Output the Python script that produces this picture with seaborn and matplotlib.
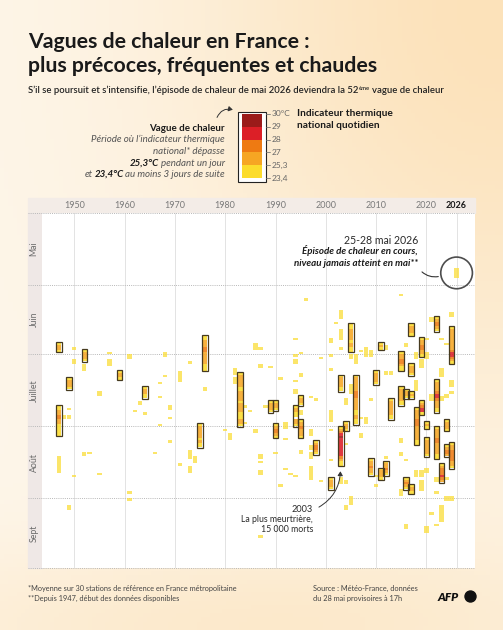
import matplotlib.pyplot as plt
import matplotlib.patches as mpatches
import numpy as np
import pandas as pd
import seaborn as sns

sns.set_theme(style="white")
plt.rcParams['font.family'] = ['Lato', 'DejaVu Sans']

W, H = 503, 630

# classes of the daily national thermal indicator (23,4 -> 30 °C)
LEVEL_COLORS = ["#fcdc2c", "#f6a623", "#ee7a12", "#dc1f27", "#9b1b1a"]
LEVEL_TICKS = ["23,4", "25,3", "27", "28", "29", "30°C"]
MONTHS = ["Mai", "Juin", "Juillet", "Août", "Sept"]
MONTH_STARTS = [0, 31, 61, 92, 123, 153]
DECADES = [1950, 1960, 1970, 1980, 1990, 2000, 2010, 2020, 2026]

# official heat waves: first day, last day, class of each day ('-' = below 23,4)
HEATWAVES = [
    ("1947-06-26", "1947-06-29", "0110"),
    ("1947-07-23", "1947-08-04", "0011221100000"),
    ("1949-07-11", "1949-07-15", "01110"),
    ("1952-06-29", "1952-07-03", "01110"),
    ("1959-07-08", "1959-07-11", "0110"),
    ("1964-07-15", "1964-07-19", "01100"),
    ("1975-07-31", "1975-08-09", "0111110100"),
    ("1976-06-23", "1976-07-07", "001112211111000"),
    ("1983-07-09", "1983-07-31", "01111100111101111000110"),
    ("1989-07-21", "1989-07-25", "01110"),
    ("1990-07-21", "1990-07-24", "0110"),
    ("1990-07-31", "1990-08-05", "012210"),
    ("1994-07-23", "1994-07-31", "01100-110"),
    ("1995-07-19", "1995-07-22", "0110"),
    ("1995-07-29", "1995-08-05", "01121110"),
    ("1998-08-07", "1998-08-12", "012210"),
    ("2001-08-23", "2001-08-27", "01110"),
    ("2003-07-10", "2003-07-16", "0111100"),
    ("2003-08-01", "2003-08-17", "01234333333332100"),
    ("2004-07-30", "2004-08-02", "0110"),
    ("2005-06-18", "2005-06-29", "001111101100"),
    ("2006-07-10", "2006-07-30", "011111122211111001100"),
    ("2009-08-15", "2009-08-21", "0112110"),
    ("2010-07-08", "2010-07-13", "011110"),
    ("2011-06-26", "2011-06-28", "010"),
    ("2011-08-19", "2011-08-23", "01110"),
    ("2012-08-16", "2012-08-21", "011210"),
    ("2013-07-20", "2013-07-28", "011111100"),
    ("2015-06-30", "2015-07-07", "01122100"),
    ("2015-07-15", "2015-07-22", "01111100"),
    ("2016-07-16", "2016-07-19", "0110"),
    ("2016-08-23", "2016-08-27", "01210"),
    ("2017-06-18", "2017-06-22", "01110"),
    ("2017-07-05", "2017-07-09", "01110"),
    ("2017-07-17", "2017-07-19", "010"),
    ("2017-08-26", "2017-08-29", "0110"),
    ("2018-07-24", "2018-08-08", "0111122211111100"),
    ("2019-06-24", "2019-07-01", "01122110"),
    ("2019-07-21", "2019-07-26", "012330"),
    ("2020-07-30", "2020-08-01", "010"),
    ("2020-08-06", "2020-08-13", "01111110"),
    ("2022-06-15", "2022-06-20", "012210"),
    ("2022-07-12", "2022-07-25", "01111233211100"),
    ("2022-08-01", "2022-08-14", "01111221111100"),
    ("2023-08-17", "2023-08-24", "01222321"),
    ("2024-07-29", "2024-08-02", "01110"),
    ("2024-08-09", "2024-08-13", "01221"),
    ("2025-06-19", "2025-07-04", "0111111111233210"),
    ("2025-08-08", "2025-08-18", "01122222110"),
]

# hot days (indicator above 23,4) outside official heat waves
HOT_DAYS = [
    ("1947-08-14", "1947-08-20"), ("1948-07-27", "1948-07-28"),
    ("1949-07-24", "1949-07-24"), ("1949-07-27", "1949-07-28"), ("1949-09-04", "1949-09-05"),
    ("1950-06-28", "1950-06-28"), ("1950-07-03", "1950-07-04"), ("1950-08-22", "1950-08-22"),
    ("1952-07-05", "1952-07-07"), ("1952-08-12", "1952-08-13"), ("1953-08-12", "1953-08-12"),
    ("1955-07-17", "1955-07-18"), ("1955-08-21", "1955-08-21"),
    ("1957-06-30", "1957-06-30"), ("1957-07-03", "1957-07-05"),
    ("1961-07-01", "1961-07-02"), ("1961-08-29", "1961-08-29"), ("1961-09-01", "1961-09-01"),
    ("1962-07-25", "1962-07-25"), ("1963-07-21", "1963-07-22"), ("1964-07-26", "1964-07-26"),
    ("1966-08-12", "1966-08-12"),
    ("1967-07-13", "1967-07-13"), ("1967-07-19", "1967-07-19"), ("1967-07-31", "1967-07-31"),
    ("1968-06-30", "1968-07-01"), ("1968-07-10", "1968-07-10"),
    ("1969-07-23", "1969-07-24"), ("1969-07-28", "1969-07-28"), ("1969-08-07", "1969-08-07"),
    ("1971-07-08", "1971-07-12"), ("1971-08-17", "1971-08-17"),
    ("1973-07-04", "1973-07-04"), ("1973-08-11", "1973-08-14"), ("1973-08-18", "1973-08-20"),
    ("1974-08-14", "1974-08-16"), ("1976-07-15", "1976-07-16"),
    ("1980-08-02", "1980-08-02"), ("1981-08-04", "1981-08-06"),
    ("1982-07-07", "1982-07-09"), ("1982-07-11", "1982-07-13"),
    ("1984-07-23", "1984-07-23"), ("1984-07-30", "1984-07-30"), ("1985-07-25", "1985-07-25"),
    ("1986-06-26", "1986-06-28"), ("1986-08-02", "1986-08-03"),
    ("1987-06-28", "1987-06-28"), ("1987-07-05", "1987-07-06"), ("1987-08-13", "1987-08-14"),
    ("1987-08-16", "1987-08-16"), ("1987-08-20", "1987-08-21"), ("1987-09-17", "1987-09-17"),
    ("1988-07-23", "1988-07-23"), ("1989-07-06", "1989-07-06"), ("1990-08-12", "1990-08-12"),
    ("1991-07-11", "1991-07-11"), ("1991-08-26", "1991-08-26"),
    ("1992-07-30", "1992-08-01"), ("1992-08-06", "1992-08-06"), ("1992-08-19", "1992-08-19"),
    ("1993-08-21", "1993-08-21"),
    ("1994-06-24", "1994-06-24"), ("1994-07-01", "1994-07-01"), ("1994-07-03", "1994-07-04"),
    ("1994-07-12", "1994-07-12"), ("1994-07-16", "1994-07-17"), ("1994-08-22", "1994-08-22"),
    ("1995-06-30", "1995-06-30"), ("1995-07-09", "1995-07-10"), ("1995-07-25", "1995-07-26"),
    ("1995-08-11", "1995-08-12"), ("1996-06-07", "1996-06-07"),
    ("1997-07-19", "1997-07-19"), ("1997-08-02", "1997-08-04"), ("1997-08-09", "1997-08-10"),
    ("1997-08-12", "1997-08-14"), ("1997-08-18", "1997-08-23"), ("1998-07-20", "1998-07-20"),
    ("1999-07-02", "1999-07-02"), ("1999-08-24", "1999-08-24"),
    ("2001-06-24", "2001-06-25"), ("2001-07-01", "2001-07-01"), ("2001-07-07", "2001-07-07"),
    ("2001-07-25", "2001-07-29"), ("2001-08-02", "2001-08-02"), ("2001-08-15", "2001-08-15"),
    ("2002-06-17", "2002-06-17"),
    ("2003-06-12", "2003-06-15"), ("2003-06-20", "2003-06-24"), ("2003-06-28", "2003-06-28"),
    ("2003-08-23", "2003-08-25"),
    ("2004-07-20", "2004-07-22"), ("2004-08-08", "2004-08-08"), ("2004-08-24", "2004-08-25"),
    ("2004-09-04", "2004-09-05"),
    ("2005-07-01", "2005-07-02"), ("2005-07-14", "2005-07-17"), ("2005-08-31", "2005-09-03"),
    ("2006-07-01", "2006-07-04"),
    ("2007-06-29", "2007-06-29"), ("2007-07-28", "2007-07-28"), ("2007-08-04", "2007-08-05"),
    ("2008-06-28", "2008-07-01"), ("2008-07-28", "2008-07-30"),
    ("2009-06-29", "2009-07-01"), ("2009-07-20", "2009-07-20"),
    ("2010-08-22", "2010-08-22"), ("2010-08-26", "2010-08-26"),
    ("2012-06-27", "2012-06-28"), ("2012-07-08", "2012-07-09"), ("2012-08-14", "2012-08-14"),
    ("2013-07-08", "2013-07-09"),
    ("2015-06-05", "2015-06-05"), ("2015-08-06", "2015-08-07"), ("2015-08-12", "2015-08-13"),
    ("2015-08-28", "2015-08-30"),
    ("2016-06-26", "2016-06-27"), ("2016-08-15", "2016-08-15"), ("2016-09-12", "2016-09-13"),
    ("2018-06-30", "2018-07-02"), ("2018-07-12", "2018-07-16"), ("2018-08-20", "2018-08-22"),
    ("2019-07-03", "2019-07-06"), ("2019-08-20", "2019-08-22"), ("2019-08-24", "2019-08-28"),
    ("2020-06-24", "2020-06-24"), ("2020-06-30", "2020-07-02"), ("2020-08-19", "2020-08-20"),
    ("2020-09-13", "2020-09-15"),
    ("2021-06-15", "2021-06-16"), ("2021-07-18", "2021-07-20"), ("2021-09-07", "2021-09-07"),
    ("2022-08-23", "2022-08-24"), ("2022-08-29", "2022-08-29"), ("2022-09-12", "2022-09-12"),
    ("2023-06-24", "2023-06-24"), ("2023-07-07", "2023-07-10"), ("2023-07-19", "2023-07-20"),
    ("2023-09-04", "2023-09-10"),
    ("2024-06-26", "2024-06-26"), ("2024-07-18", "2024-07-19"), ("2024-08-23", "2024-08-23"),
    ("2024-08-31", "2024-09-01"),
    ("2025-06-13", "2025-06-14"), ("2025-07-12", "2025-07-14"), ("2025-07-17", "2025-07-17"),
    ("2025-08-31", "2025-09-01"),
    ("2026-05-25", "2026-05-28"),
]


def season_day(s):
    d = pd.Timestamp(s)
    return (d - pd.Timestamp(year=d.year, month=5, day=1)).days


def fx(x):
    return x / W


def fy(y):
    return 1 - y / H


rows = []
for start, end, levels in HEATWAVES:
    yr, d0 = pd.Timestamp(start).year, season_day(start)
    for i, lv in enumerate(levels):
        if lv != "-":
            rows.append((yr, d0 + i, int(lv), True))
for start, end in HOT_DAYS:
    yr = pd.Timestamp(start).year
    for d in range(season_day(start), season_day(end) + 1):
        rows.append((yr, d, 0, False))
cells = pd.DataFrame(rows, columns=["year", "day", "level", "wave"])

fig = plt.figure(figsize=(W / 100, H / 100), dpi=100)

# warm background
gx, gy = np.meshgrid(np.linspace(0, 1, 120), np.linspace(0, 1, 150))
warm = 0.15 + 0.85 * np.exp(-((1 - gx) ** 2 + gy ** 2) / 0.4) + 0.5 * np.exp(-((0.5 - gx) ** 2 / 0.6 + (1 - gy) ** 2 / 0.02))
warm = np.clip(warm, 0, 1)[..., None]
c0 = np.array([254, 250, 243]) / 255
c1 = np.array([252, 226, 186]) / 255
bg = fig.add_axes([0, 0, 1, 1], zorder=-10)
bg.imshow(c0 * (1 - warm) + c1 * warm, extent=[0, 1, 0, 1], aspect="auto")
bg.axis("off")

# chart bands
fig.add_artist(mpatches.Rectangle((fx(28), fy(213)), (475 - 28) / W, 14.5 / H, transform=fig.transFigure,
                                  color="#f3ece7", zorder=-5))
fig.add_artist(mpatches.Rectangle((fx(28), fy(568)), 14 / W, (568 - 213) / H, transform=fig.transFigure,
                                  color="#efe8e6", zorder=-5))

ax = fig.add_axes([fx(42), fy(568), (475 - 42) / W, (568 - 212.5) / H])
ax.set_facecolor("white")
ax.set_xlim(1950 - 32.3 / 5.03, 1950 + 400.7 / 5.03)
ax.set_ylim(153, 0)
sns.despine(ax=ax, left=True, bottom=True)
for sp in ax.spines.values():
    sp.set_visible(False)

for yr in DECADES:
    ax.axvline(yr, color="#dedede", lw=0.6, zorder=0)
for d in MONTH_STARTS:
    ax.axhline(d, xmin=-14 / 433, xmax=1, clip_on=False, ls=(0, (1, 1.2)), color="#b8b8b8", lw=0.7, zorder=1)

# hot days then heat wave days
hot = cells[~cells.wave]
ax.bar(hot.year, 1, bottom=hot.day, width=0.85, color="#fbdf45", alpha=0.8, linewidth=0, zorder=2)
wave = cells[cells.wave]
ax.bar(wave.year, 1, bottom=wave.day, width=0.9, color=[LEVEL_COLORS[v] for v in wave.level],
       alpha=0.88, linewidth=0, zorder=3)
for start, end, levels in HEATWAVES:
    yr, d0 = pd.Timestamp(start).year, season_day(start)
    ax.add_patch(mpatches.Rectangle((yr - 0.56, d0 - 0.25), 1.12, len(levels) + 0.5, fill=False,
                                    ec="#463a1f", lw=0.9, zorder=4))

ax.set_xticks(DECADES, [str(y) for y in DECADES])
ax.xaxis.set_ticks_position("top")
ax.tick_params(axis="x", top=True, bottom=False, labeltop=True, labelbottom=False, length=0, pad=2,
               labelsize=6.5, labelcolor="#7a7a7a")
ax.get_xticklabels()[-1].set_fontweight("bold")
ax.get_xticklabels()[-1].set_color("#1a1a1a")
mids = [(a + b) / 2 for a, b in zip(MONTH_STARTS[:-1], MONTH_STARTS[1:])]
ax.set_yticks(mids, MONTHS)
ax.tick_params(axis="y", left=True, length=0, pad=2.5, labelsize=6.3, labelcolor="#6a6a6a", labelrotation=90)
for t in ax.get_yticklabels():
    t.set_va("center")
ax.grid(False)

# 2026 highlight
ax.scatter([2026], [season_day("2026-05-25") + 2], s=520, facecolors="none", edgecolors="#4d4d4d",
           linewidths=1.2, zorder=5, clip_on=False)

renderer = fig.canvas.get_renderer()


def parts_line(x, y, parts, ha="left", size=6.5, color="#333333"):
    texts = []
    for s, props, gap in parts:
        kw = dict(fontsize=size, color=color, va="baseline")
        kw.update(props)
        texts.append((fig.text(0, 0, s, **kw), gap))
    widths = [t.get_window_extent(renderer).width for t, _ in texts]
    total = sum(widths) + sum(g for _, g in texts)
    cur = x if ha == "left" else x - total
    for (t, gap), w in zip(texts, widths):
        cur += gap
        t.set_position((fx(cur), fy(y)))
        cur += w


# titles
fig.text(fx(28), fy(48.5), "Vagues de chaleur en France :", fontsize=15.3, weight="bold", color="#1a1a1a")
fig.text(fx(28), fy(72.5), "plus précoces, fréquentes et chaudes", fontsize=15.3, weight="bold", color="#1a1a1a")

first = fig.text(fx(28), fy(93), "S’il se poursuit et s’intensifie, l’épisode de chaleur de mai 2026 deviendra la 52",
                 fontsize=6.8, weight="semibold", color="#222222")
x_end = first.get_window_extent(renderer).x1
sup = fig.text(fx(x_end + 0.3), fy(89.8), "ème", fontsize=4.2, weight="semibold", color="#222222")
x_end2 = sup.get_window_extent(renderer).x1
fig.text(fx(x_end2 + 2.2), fy(93), "vague de chaleur", fontsize=6.8, weight="semibold", color="#222222")

# legend bar
fig.add_artist(mpatches.Rectangle((fx(237.5), fy(181.5)), 28 / W, 70 / H, transform=fig.transFigure,
                                  fc="white", ec="#222222", lw=0.8, zorder=-1))
lg = fig.add_axes([fx(241.5), fy(178), 20 / W, 64 / H])
lg.bar([0] * 5, 1, bottom=range(5), width=1, color=LEVEL_COLORS, linewidth=0)
lg.set_xlim(-0.5, 0.5)
lg.set_ylim(0, 5)
lg.axis("off")
for i, lab in enumerate(LEVEL_TICKS):
    yy = 178 - i * 12.8
    fig.add_artist(plt.Line2D([fx(265.5), fx(269.5)], [fy(yy), fy(yy)], transform=fig.transFigure,
                              color="#777777", lw=0.6))
    fig.text(fx(272), fy(yy), lab, fontsize=6, color="#666666", va="center")
fig.text(fx(297), fy(116), "Indicateur thermique", fontsize=7.3, weight="bold", color="#1a1a1a")
fig.text(fx(297), fy(128), "national quotidien", fontsize=7.3, weight="bold", color="#1a1a1a")

it = {"style": "italic"}
bi = {"style": "italic", "weight": "bold", "color": "#1a1a1a"}
fig.text(fx(225), fy(131), "Vague de chaleur", fontsize=7, weight="bold", color="#1a1a1a", ha="right")
fig.text(fx(225), fy(142.5), "Période où l’indicateur thermique", fontsize=7, style="italic",
         color="#555555", ha="right")
fig.text(fx(225), fy(154), "national* dépasse", fontsize=7, style="italic", color="#555555", ha="right")
parts_line(225, 165.5, [("25,3°C", bi, 0), ("pendant un jour", it, 1.9)], ha="right", size=7, color="#555555")
parts_line(225, 177, [("et", it, 0), ("23,4°C", bi, 1.9), ("au moins 3 jours de suite", it, 1.9)],
           ha="right", size=7, color="#555555")
fig.add_artist(mpatches.FancyArrowPatch((fx(216), fy(120)), (fx(235.5), fy(110.5)), transform=fig.transFigure,
                                        connectionstyle="arc3,rad=-0.5",
                                        arrowstyle="-|>,head_length=2.5,head_width=1.5",
                                        color="#333333", lw=0.7))

# annotations
fig.text(fx(418), fy(243.5), "25-28 mai 2026", fontsize=7.6, color="#2a2a2a", ha="right")
fig.text(fx(418), fy(254.5), "Épisode de chaleur en cours,", fontsize=7, weight="bold", style="italic",
         color="#1a1a1a", ha="right")
fig.text(fx(418), fy(266), "niveau jamais atteint en mai**", fontsize=7, weight="bold", style="italic",
         color="#1a1a1a", ha="right")
fig.add_artist(mpatches.FancyArrowPatch((fx(420), fy(270)), (fx(441), fy(276)), transform=fig.transFigure,
                                        connectionstyle="arc3,rad=0.3", arrowstyle="-", color="#333333", lw=0.8))

fig.text(fx(313), fy(512), "2003", fontsize=6.6, color="#2a2a2a", ha="right")
fig.text(fx(313), fy(522), "La plus meurtrière,", fontsize=6.3, color="#2a2a2a", ha="right")
fig.text(fx(313), fy(532), "15 000 morts", fontsize=6.3, color="#2a2a2a", ha="right")
fig.add_artist(mpatches.FancyArrowPatch((fx(316.5), fy(508.5)), (fx(340.5), fy(468.5)), transform=fig.transFigure,
                                        connectionstyle="arc3,rad=0.3",
                                        arrowstyle="-|>,head_length=2.5,head_width=1.5", color="#333333", lw=0.7))

# footer
fig.text(fx(28), fy(591), "*Moyenne sur 30 stations de référence en France métropolitaine", fontsize=5.3,
         color="#444444")
fig.text(fx(28), fy(600.5), "**Depuis 1947, début des données disponibles", fontsize=5.3, color="#444444")
fig.text(fx(313), fy(591), "Source : Météo-France, données", fontsize=5.3, color="#444444")
fig.text(fx(313), fy(600.5), "du 28 mai provisoires à 17h", fontsize=5.3, color="#444444")
fig.text(fx(438), fy(601), "AFP", fontsize=8.5, weight="heavy", style="italic", color="#111111")
fig.add_artist(mpatches.Ellipse((fx(470.5), fy(596.5)), 11 / W, 11 / H, transform=fig.transFigure,
                                color="#111111"))

fig.savefig("out.png", dpi=100)
